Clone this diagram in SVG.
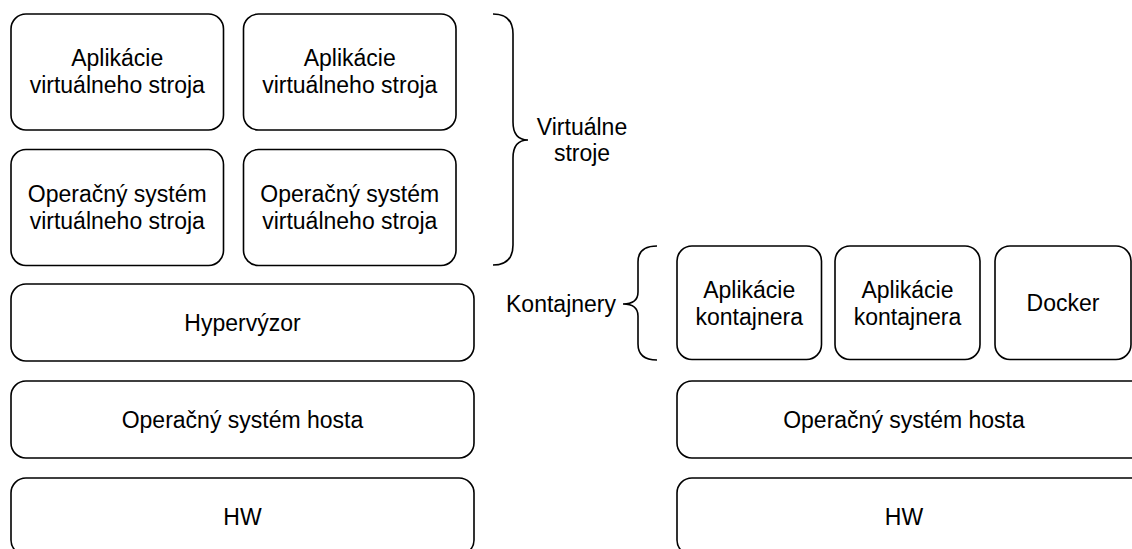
<svg xmlns="http://www.w3.org/2000/svg" width="1132" height="549" viewBox="0 0 1132 549">
<style>
.box{fill:#fff;stroke:#000;stroke-width:1.6}
.brace{fill:none;stroke:#000;stroke-width:1.6}
text{font-family:"Liberation Sans",Arial,sans-serif;font-size:23px;fill:#000;text-anchor:middle}
</style>
<rect width="1132" height="549" fill="#fff"/>
<g id="vm-app-1"><rect class="box" x="11" y="14" width="212.5" height="116" rx="15"/><text x="117.25" y="66">Aplikácie</text><text x="117.25" y="93">virtuálneho stroja</text></g>
<g id="vm-app-2"><rect class="box" x="243.5" y="14" width="212.5" height="116" rx="15"/><text x="349.75" y="66">Aplikácie</text><text x="349.75" y="93">virtuálneho stroja</text></g>
<g id="vm-os-1"><rect class="box" x="11" y="149.5" width="212.5" height="116" rx="15"/><text x="117.25" y="201.5">Operačný systém</text><text x="117.25" y="228.5">virtuálneho stroja</text></g>
<g id="vm-os-2"><rect class="box" x="243.5" y="149.5" width="212.5" height="116" rx="15"/><text x="349.75" y="201.5">Operačný systém</text><text x="349.75" y="228.5">virtuálneho stroja</text></g>
<g id="hypervisor"><rect class="box" x="11" y="284" width="463" height="77" rx="15"/><text x="242.5" y="330.5">Hypervýzor</text></g>
<g id="host-os-left"><rect class="box" x="11" y="381" width="463" height="77" rx="15"/><text x="242.5" y="427.5">Operačný systém hosta</text></g>
<g id="hw-left"><rect class="box" x="11" y="478" width="463" height="77" rx="15"/><text x="242.5" y="525">HW</text></g>
<g id="cont-app-1"><rect class="box" x="677" y="246" width="144.5" height="113.5" rx="15"/><text x="749.25" y="297.5">Aplikácie</text><text x="749.25" y="324.5">kontajnera</text></g>
<g id="cont-app-2"><rect class="box" x="835" y="246" width="145" height="113.5" rx="15"/><text x="907.5" y="297.5">Aplikácie</text><text x="907.5" y="324.5">kontajnera</text></g>
<g id="docker"><rect class="box" x="995" y="246" width="136" height="113.5" rx="15"/><text x="1063" y="311">Docker</text></g>
<g id="host-os-right"><rect class="box" x="677" y="381" width="470" height="77" rx="15"/><text x="904" y="427.5">Operačný systém hosta</text></g>
<g id="hw-right"><rect class="box" x="677" y="478" width="470" height="77" rx="15"/><text x="904" y="525">HW</text></g>
<g id="brace-vm"><path class="brace" d="M493,14 Q513,14 513,34 L513,122 Q513,140 528,140 Q513,140 513,158 L513,245 Q513,265 493,265"/><text x="582" y="135">Virtuálne</text><text x="582" y="161">stroje</text></g>
<g id="brace-containers"><path class="brace" d="M657,246 Q638,246 638,262 L638,292 Q638,304 623,304 Q638,304 638,316 L638,344 Q638,360 657,360"/><text x="616" y="312" style="text-anchor:end">Kontajnery</text></g>
<g id="connectors"></g>
</svg>
